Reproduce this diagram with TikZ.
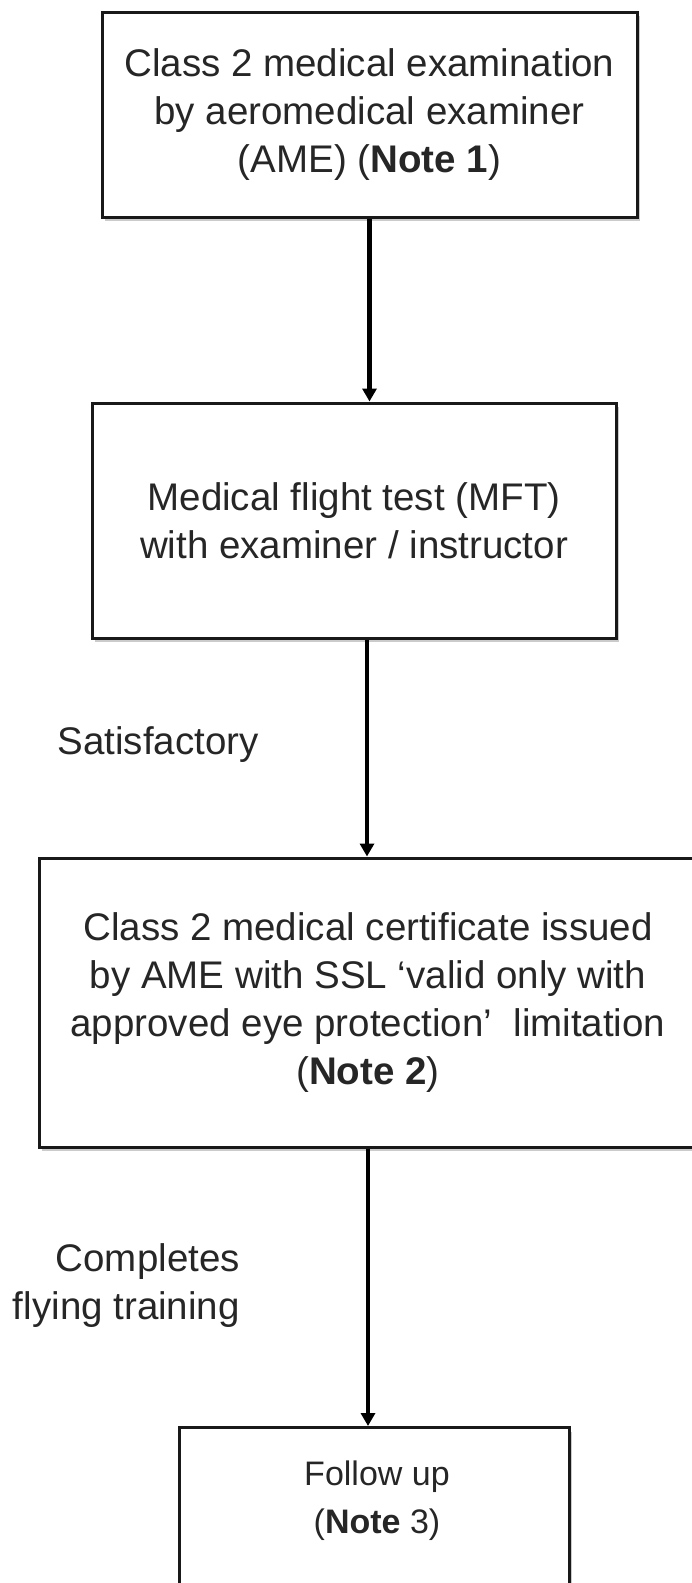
\documentclass[tikz,border=0pt]{standalone}
\usepackage{fontspec}
\setmainfont{Liberation Sans}
\usetikzlibrary{arrows.meta,shadows}
\begin{document}
\begin{tikzpicture}[x=1pt,y=-1pt,
  box/.style={draw=black!90, line width=3pt, fill=white, rectangle, align=center,
    font=\fontsize{38.5}{48}\selectfont, text=black!85,
    drop shadow={shadow xshift=3pt, shadow yshift=-4pt, fill=black!45, opacity=.45}},
  lbl/.style={font=\fontsize{38.5}{48}\selectfont, text=black!85, inner sep=0pt},
  arr/.style={line width=4.5pt, -{Triangle[length=13pt,width=14pt]}}]
\useasboundingbox (0,0) rectangle (692,1583);
\clip (0,0) rectangle (692,1583);
\node[box, minimum width=535, minimum height=205] (b1) at (369.5,114.5)
  {Class 2 medical examination\\by aeromedical examiner\\(AME) (\textbf{Note 1})};
\node[box, minimum width=524, minimum height=235] (b2) at (354,520.5)
  {Medical flight test (MFT)\\with examiner / instructor};
\node[box, minimum width=658, minimum height=289] (b3) at (368,1002.5)
  {Class 2 medical certificate issued\\by AME with SSL `valid only with\\approved eye protection'\ \ limitation\\(\textbf{Note 2})};
\node[box, minimum width=390, minimum height=190, anchor=north] (b4) at (374,1426) {};
\node[lbl, align=center, font=\fontsize{34}{48}\selectfont] (t4) at (377,1501) {Follow up\\(\textbf{Note} 3)};
\node[lbl] (l1) at (158,745) {Satisfactory};
\node[lbl, align=right, anchor=east] (l2) at (240,1286) {Completes\\flying training};
\draw[arr] (b1.south) -- (b1.south |- b2.north);
\draw[arr] ([xshift=13pt]b2.south) -- ([xshift=13pt]b2.south |- b3.north);
\draw[arr] (b3.south) -- (b3.south |- b4.north);
\end{tikzpicture}
\end{document}
